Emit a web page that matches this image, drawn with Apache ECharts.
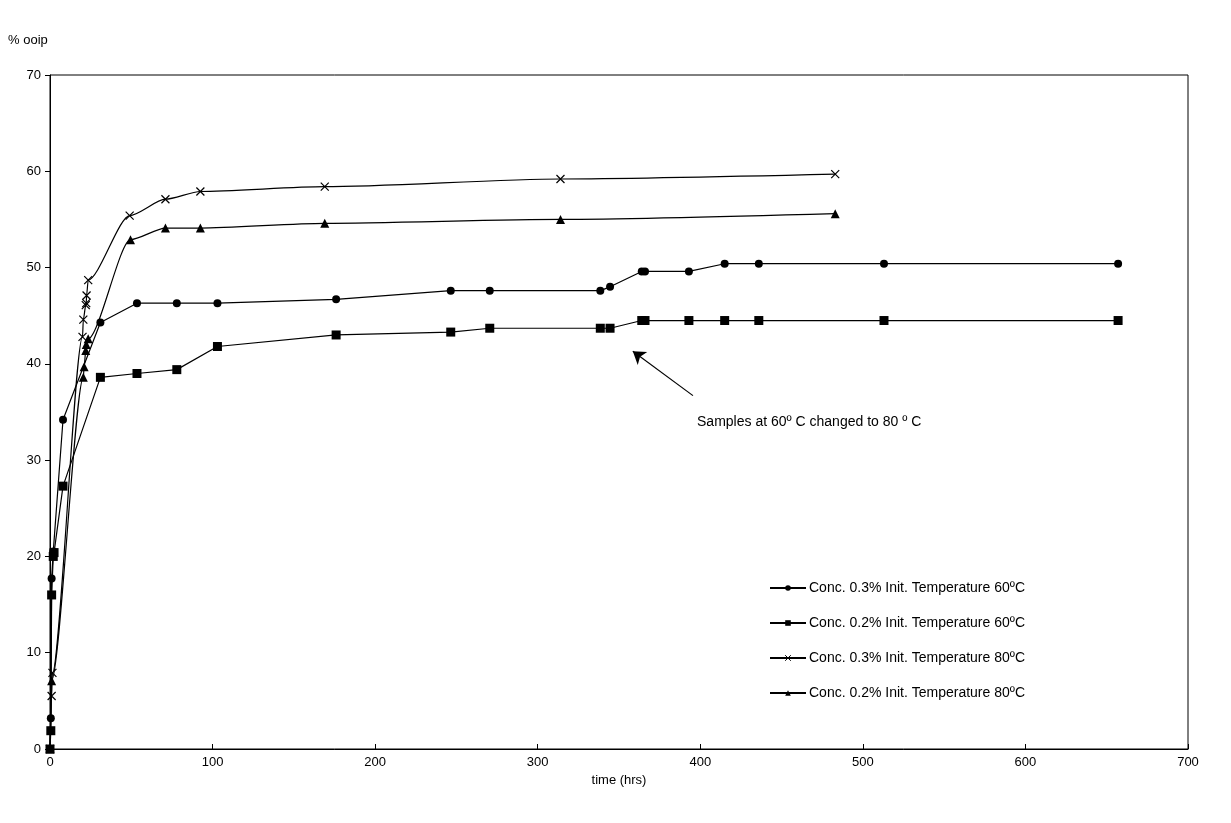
<!DOCTYPE html>
<html><head><meta charset="utf-8">
<script src="https://cdn.jsdelivr.net/npm/echarts@6/dist/echarts.min.js"></script>
<style>html,body{margin:0;padding:0;background:#fff}#c{width:1231px;height:823px}</style>
</head><body><div id="c"></div>
<script>
const seriesNames = [
  'Conc. 0.3% Init. Temperature 60ºC',
  'Conc. 0.2% Init. Temperature 60ºC',
  'Conc. 0.3% Init. Temperature 80ºC',
  'Conc. 0.2% Init. Temperature 80ºC'
];
const s1 = [[0,0],[0.5,3.2],[1,17.7],[2,20.5],[8,34.2],[31,44.3],[53.5,46.3],[78,46.3],[103,46.3],[176,46.7],[246.5,47.6],[270.5,47.6],[338.5,47.6],[344.5,48.0],[364,49.6],[366,49.6],[393,49.6],[415,50.4],[436,50.4],[513,50.4],[657,50.4]];
const s2 = [[0,0],[0.5,1.9],[1,16.0],[2,20.0],[2.5,20.4],[8,27.3],[31,38.6],[53.5,39.0],[78,39.4],[103,41.8],[176,43.0],[246.5,43.3],[270.5,43.7],[338.5,43.7],[344.5,43.7],[364,44.5],[366,44.5],[393,44.5],[415,44.5],[436,44.5],[513,44.5],[657,44.5]];
const s3 = [[0,0],[1,5.5],[1.5,7.9],[20,42.8],[20.5,44.6],[22,46.1],[22.3,46.3],[22.5,47.1],[23.5,48.7],[49,55.4],[71,57.1],[92.5,57.9],[169,58.4],[314,59.2],[483,59.7]];
const s4 = [[0,0],[1,7.1],[20.5,38.6],[21,39.7],[22,41.4],[22.3,42.0],[23.5,42.6],[49.5,52.9],[71,54.1],[92.5,54.1],[169,54.6],[314,55.0],[483,55.6]];
const annotationText = 'Samples at 60º C changed to 80 º C';
const arrowFrom = [395.5, 36.7];
const arrowTo = [358.5, 41.3];
const textPos = [398, 34.1];

const crossPath = 'path://M0,0L10,10M10,0L0,10';
const font = 'Liberation Sans, Arial, sans-serif';
function mk(name, data, symbol, size, smooth, cross) {
  return {
    name, type: 'line', data, symbol, symbolSize: size, smooth: smooth,
    smoothMonotone: smooth ? 'x' : undefined,
    showAllSymbol: true,
    lineStyle: {color: '#000', width: 1.2},
    itemStyle: cross ? {color: '#000', borderColor: '#000', borderWidth: 1.2} : {color: '#000', borderWidth: 0},
    emphasis: {disabled: true}
  };
}
const chart = echarts.init(document.getElementById('c'), null, {renderer: 'canvas'});
const series = [
  mk(seriesNames[0], s1, 'circle', 8, false, false),
  mk(seriesNames[1], s2, 'rect', 9, false, false),
  mk(seriesNames[2], s3, crossPath, 8, 0.25, true),
  mk(seriesNames[3], s4, 'triangle', 9, 0.25, false)
];
series.push({
  type: 'line', data: [], silent: true,
  markLine: {
    silent: true, symbol: ['none', 'arrow'], symbolSize: 12,
    lineStyle: {color: '#000', width: 1.2, type: 'solid', opacity: 1},
    label: {show: false},
    emphasis: {disabled: true},
    data: [[{coord: arrowFrom}, {coord: arrowTo}]]
  }
});
chart.setOption({
  animation: false,
  backgroundColor: '#fff',
  textStyle: {fontFamily: font},
  grid: {left: 50, right: 43, top: 75, bottom: 74, show: true, borderColor: '#000', borderWidth: 1},
  legend: {
    data: seriesNames.map((n, i) => ({name: n, itemStyle: {borderWidth: i === 2 ? 1 : 0, borderColor: '#000'}})),
    orient: 'vertical', left: 764, top: 576,
    itemWidth: 36, itemHeight: 7, itemGap: 21,
    textStyle: {fontFamily: font, fontSize: 14, color: '#000', padding: [0,0,0,-2]}
  },
  xAxis: {
    type: 'value', min: 0, max: 700, interval: 100,
    name: 'time (hrs)', nameLocation: 'middle', nameGap: 25,
    nameTextStyle: {fontFamily: font, fontSize: 13, color: '#000'},
    axisLine: {lineStyle: {color: '#000', width: 1}},
    axisTick: {show: true, inside: true, length: 5, lineStyle: {color: '#000'}},
    axisLabel: {color: '#000', fontSize: 13, fontFamily: font, margin: 7},
    splitLine: {show: false}
  },
  yAxis: {
    type: 'value', min: 0, max: 70, interval: 10,
    name: '% ooip', nameLocation: 'end', nameGap: 28,
    nameTextStyle: {fontFamily: font, fontSize: 13, color: '#000', align: 'left', padding: [0,0,0,-42]},
    axisLine: {show: true, lineStyle: {color: '#000', width: 1}},
    axisTick: {show: true, inside: false, length: 5, lineStyle: {color: '#000'}},
    axisLabel: {color: '#000', fontSize: 13, fontFamily: font, margin: 9},
    splitLine: {show: false}
  },
  series
});
const tp = chart.convertToPixel({gridIndex: 0}, textPos);
chart.setOption({
  graphic: [{
    type: 'text', left: tp[0], top: tp[1] - 6, silent: true,
    style: {text: annotationText, fill: '#000', font: '14px ' + font}
  }]
});
</script></body></html>
